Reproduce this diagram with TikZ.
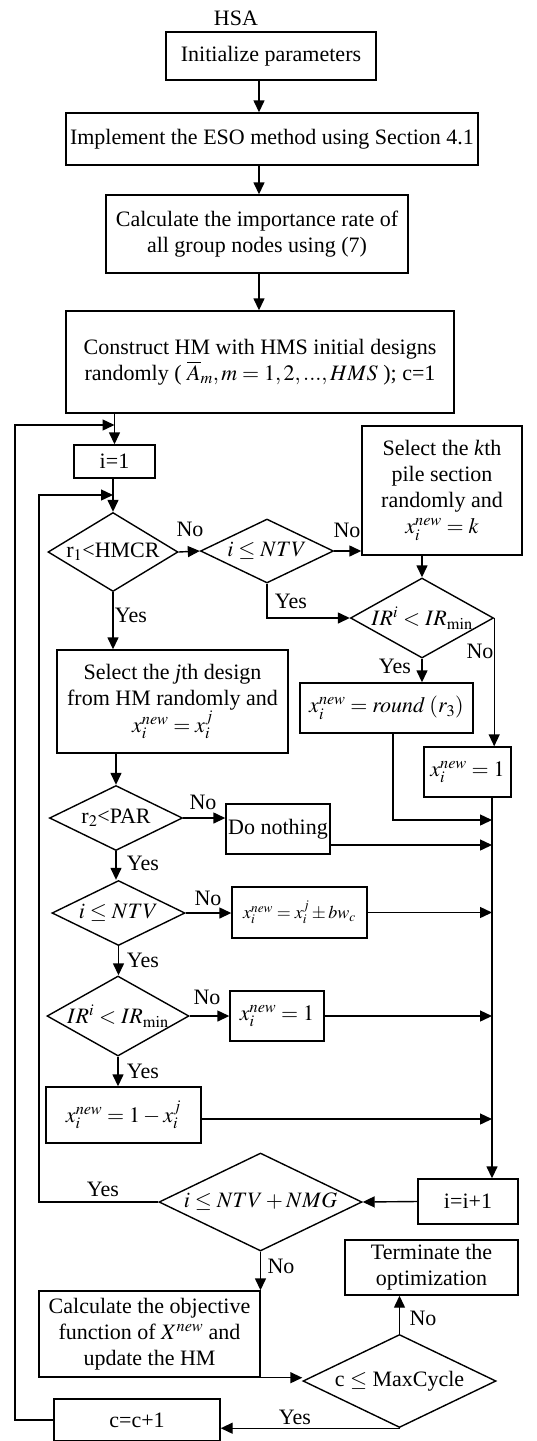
\documentclass[tikz,border=0pt]{standalone}
\usepackage{mathptmx}
\usepackage[no-math]{fontspec}
\setmainfont{Liberation Serif}
\usepackage{tikz}
\usetikzlibrary{shapes,arrows,positioning,calc,arrows.meta}

\tikzset{
    box/.style={draw, line width=1.4pt, align=center, inner sep=2pt},
    decision/.style={diamond, draw, line width=1.4pt, inner sep=0pt, aspect=1.8, align=center},
    arr/.style={line width=1.4pt, -{Triangle[length=12pt,width=11pt]}},
    lbl/.style={inner sep=0pt}
}

\begin{document}
\begin{tikzpicture}[x=1pt, y=-1pt, font=\fontsize{22}{26}\selectfont]
    \useasboundingbox (0,0) rectangle (537,1441);

    % main column
    \node (title) at (236,18) {HSA};
    \node[box, minimum width=210pt, minimum height=48pt] (init) at (271,56) {Initialize parameters};
    \node[box, minimum width=412pt, minimum height=52pt] (eso) at (272,139) {Implement the ESO method using Section 4.1};
    \node[box, minimum width=302pt, minimum height=78pt] (rate) at (257,234) {Calculate the importance rate of\\all group nodes using (7)};
    \node[box, minimum width=388pt, minimum height=102pt] (hm) at (260,362) {Construct HM with HMS initial designs\\randomly ( $\overline{A}_m , m = 1, 2, ..., HMS$ ); c=1};
    \node[box, minimum width=81pt, minimum height=33pt] (ione) at (114.5,461.5) {i=1};

    % decisions
    \node[decision, minimum width=130pt, minimum height=79pt] (d1) at (113,552) {r$_1$<HMCR};
    \node[decision, minimum width=133pt, minimum height=64pt] (d2) at (267,551) {$i \le NTV$};
    \node[decision, minimum width=143pt, minimum height=80pt] (d3) at (422,618) {$IR^i < IR_{\min}$};
    \node[decision, minimum width=133pt, minimum height=65pt] (d4) at (116,818) {r$_2$<PAR};
    \node[decision, minimum width=133pt, minimum height=65pt] (d5) at (118.5,913) {$i \le NTV$};
    \node[decision, minimum width=142pt, minimum height=80pt] (d6) at (118,1016) {$IR^i < IR_{\min}$};
    \node[decision, aspect=2, minimum width=203pt, minimum height=98pt] (d7) at (260.5,1202) {$i \le NTV + NMG$};
    \node[decision, aspect=2, minimum width=193pt, minimum height=93pt] (d8) at (399.5,1381) {c $\le$ MaxCycle};

    % process boxes
    \node[box, minimum width=160pt, minimum height=129pt] (kth) at (442,490.5) {Select the \textit{k}th\\pile section\\randomly and\\$x_i^{new} = k$};
    \node[box, minimum width=231pt, minimum height=103pt] (jth) at (172.5,701.5) {Select the \textit{j}th design\\from HM randomly and\\$x_i^{new} = x_i^j$};
    \node[box, minimum width=173pt, minimum height=50pt] (round) at (386.5,708) {$x_i^{new} = \mathit{round}\;(r_3)$};
    \node[box, minimum width=87pt, minimum height=50pt] (one1) at (467.5,772) {$x_i^{new} = 1$};
    \node[box, minimum width=104pt, minimum height=50pt] (nothing) at (278,829) {Do nothing};
    \node[box, minimum width=135pt, minimum height=51pt, font=\fontsize{18}{21}\selectfont] (bw) at (299.5,912.5) {$x_i^{new} = x_i^j \pm bw_c$};
    \node[box, minimum width=94pt, minimum height=50pt] (one2) at (277,1016) {$x_i^{new} = 1$};
    \node[box, minimum width=155pt, minimum height=56pt] (flip) at (123.5,1115) {$x_i^{new} = 1 - x_i^j$};
    \node[box, minimum width=100pt, minimum height=45pt] (inc) at (468,1201.5) {i=i+1};
    \node[box, minimum width=221pt, minimum height=86pt] (calc) at (149.5,1334) {Calculate the objective\\function of $X^{new}$ and\\update the HM};
    \node[box, minimum width=173pt, minimum height=55pt] (term) at (431.5,1267.5) {Terminate the\\optimization};
    \node[box, minimum width=166pt, minimum height=42pt] (cinc) at (137,1420) {c=c+1};

    % helper points
    \coordinate (spine) at (259,0);
    \coordinate (bus) at (492,0);
    \coordinate (outer) at (15,425);
    \coordinate (inner) at (39,495);
    \coordinate (j1) at (492,820);
    \coordinate (j2) at (492,845);
    \coordinate (j3) at (492,1119);

    % connectors
    \draw[arr] (init.south -| spine) -- (eso.north -| spine);
    \draw[arr] (eso.south -| spine) -- (rate.north -| spine);
    \draw[arr] (rate.south -| spine) -- (hm.north -| spine);
    \draw[arr] (hm.south -| ione.north) -- (ione.north);
    \draw[arr] (ione.south -| d1.north) -- (d1.north);
    \draw[arr] (d1.east) -- (d2.west);
    \draw[arr] (d2.east) -- (d2.east -| kth.west);
    \draw[arr] (kth.south -| d3.north) -- (d3.north);
    \draw[arr] (d2.south) |- (d3.west);
    \draw[arr] (d1.south) -- (d1.south |- jth.north);
    \draw[arr] (d3.south) -- (d3.south |- round.north);
    \draw[arr] (d3.east) -- (d3.east |- one1.north);
    \draw[arr] (one1.south -| bus) -- (inc.north -| bus);
    \draw[arr] ([xshift=6.5pt]round.south) |- (j1);
    \draw[arr] (jth.south -| d4.north) -- (d4.north);
    \draw[arr] (d4.east) -- (d4.east -| nothing.west);
    \draw[arr] (nothing.east |- j2) -- (j2);
    \draw[arr] (d4.south) -- (d4.south |- d5.north);
    \draw[arr] (d5.east) -- (d5.east -| bw.west);
    \draw[arr] (bw.east) -- (bw.east -| bus);
    \draw[arr] (d5.south) -- (d5.south |- d6.north);
    \draw[arr] (d6.east) -- (d6.east -| one2.west);
    \draw[arr] (one2.east) -- (one2.east -| bus);
    \draw[arr] (d6.south) -- (d6.south |- flip.north);
    \draw[arr] (flip.east |- j3) -- (j3);
    \draw[arr] (inc.west) -- (d7.east);
    \draw[arr] (d7.west) -| (inner) -- (inner -| d1.north);
    \draw[arr] (d7.south) -- (d7.south |- calc.north);
    \draw[arr] (calc.south east) -- (calc.south east -| d8.west);
    \draw[arr] (d8.north) -- (d8.north |- term.south);
    \draw[arr] (d8.south) -- (d8.south -| cinc.east);
    \draw[arr] (cinc.west) -| (outer) -- (outer -| ione.north);

    % branch labels
    \node[lbl] (n1) at (190,529) {No};
    \node[lbl] (n2) at (347,530) {No};
    \node[lbl] (y2) at (291,601) {Yes};
    \node[lbl] (y1) at (131,615) {Yes};
    \node[lbl] (y3) at (395,666) {Yes};
    \node[lbl] (n3) at (480,651) {No};
    \node[lbl] (n4) at (203,802) {No};
    \node[lbl] (y4) at (143,863) {Yes};
    \node[lbl] (n5) at (208,898) {No};
    \node[lbl] (y5) at (143,960) {Yes};
    \node[lbl] (n6) at (207,997) {No};
    \node[lbl] (y6) at (143,1071) {Yes};
    \node[lbl] (y7) at (103,1189) {Yes};
    \node[lbl] (n7) at (281,1266) {No};
    \node[lbl] (n8) at (423,1318) {No};
    \node[lbl] (y8) at (295,1417) {Yes};
\end{tikzpicture}
\end{document}
